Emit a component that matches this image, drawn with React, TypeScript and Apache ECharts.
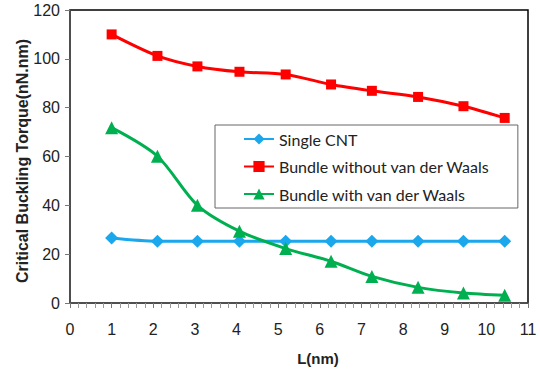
import React, { useEffect, useRef } from "react";
import * as echarts from "echarts";

const lengths = [1.0, 2.1, 3.06, 4.07, 5.18, 6.27, 7.25, 8.36, 9.45, 10.44];
const singleCNT = [26.6, 25.3, 25.3, 25.3, 25.3, 25.3, 25.3, 25.3, 25.3, 25.3];
const bundleWithout = [110, 101.2, 96.9, 94.7, 93.6, 89.5, 86.9, 84.4, 80.6, 75.8];
const bundleWith = [71.8, 60.1, 40, 29.4, 22.3, 17.1, 10.9, 6.4, 4.1, 3.2];
const seriesNames = ["Single CNT", "Bundle without van der Waals", "Bundle with van der Waals"];

const pair = (ys: number[]) => lengths.map((x, i) => [x, ys[i]]);

export default function App() {
  const ref = useRef<HTMLDivElement>(null);
  useEffect(() => {
    if (!ref.current) return;
    const chart = echarts.init(ref.current, undefined, { renderer: "svg" });
    const axisFont = { fontFamily: "Liberation Sans, Arial, sans-serif", fontSize: 16, color: "#222" };
    chart.setOption({
      animation: false,
      backgroundColor: "#fff",
      grid: {
        left: 70,
        top: 10,
        right: 12,
        bottom: 69,
        show: true,
        borderColor: "#000",
        borderWidth: 1.5,
      },
      xAxis: {
        type: "value",
        min: 0,
        max: 11,
        interval: 1,
        axisLine: { show: true, lineStyle: { color: "#555", width: 1.5 } },
        axisTick: { show: true, length: 5, lineStyle: { color: "#777" } },
        minorTick: { show: true, splitNumber: 5, length: 5, lineStyle: { color: "#999" } },
        splitLine: { show: false },
        axisLabel: { ...axisFont, margin: 18 },
      },
      yAxis: {
        type: "value",
        min: 0,
        max: 120,
        interval: 20,
        axisLine: { show: true, lineStyle: { color: "#555", width: 1.5 } },
        axisTick: { show: true, length: 5, lineStyle: { color: "#777" } },
        splitLine: { show: false },
        axisLabel: { ...axisFont, margin: 10 },
      },
      legend: {
        orient: "vertical",
        left: 215,
        top: 125,
        data: seriesNames,
        backgroundColor: "#fff",
        borderColor: "#666",
        borderWidth: 1,
        padding: [6, 28, 6, 28],
        itemWidth: 30,
        itemHeight: 14,
        itemGap: 11.5,
        textStyle: { fontFamily: "Lato, Noto Sans, sans-serif", fontSize: 16, color: "#222" },
      },
      graphic: [
        {
          type: "text",
          x: 22,
          y: 161,
          rotation: Math.PI / 2,
          style: {
            text: "Critical Buckling Torque(nN.nm)",
            fontFamily: "Liberation Sans, Arial, sans-serif",
            fontWeight: "bold",
            fontSize: 16,
            fill: "#222",
            align: "center",
            verticalAlign: "middle",
          },
        },
        {
          type: "text",
          x: 318,
          y: 358,
          style: {
            text: "L(nm)",
            fontFamily: "Liberation Sans, Arial, sans-serif",
            fontWeight: "bold",
            fontSize: 15,
            fill: "#222",
            align: "center",
            verticalAlign: "middle",
          },
        },
      ],
      series: [
        {
          name: seriesNames[0],
          type: "line",
          data: pair(singleCNT),
          smooth: 0.3,
          symbol: "diamond",
          symbolSize: 13,
          lineStyle: { color: "#1AA7EC", width: 3 },
          itemStyle: { color: "#1AA7EC" },
        },
        {
          name: seriesNames[1],
          type: "line",
          data: pair(bundleWithout),
          smooth: 0.3,
          symbol: "rect",
          symbolSize: 10,
          lineStyle: { color: "#FF0000", width: 3 },
          itemStyle: { color: "#FF0000" },
        },
        {
          name: seriesNames[2],
          type: "line",
          data: pair(bundleWith),
          smooth: 0.3,
          symbol: "triangle",
          symbolSize: 13,
          lineStyle: { color: "#00B050", width: 3 },
          itemStyle: { color: "#00B050" },
        },
      ],
    });
    return () => chart.dispose();
  }, []);
  return <div ref={ref} style={{ width: 540, height: 372, position: "absolute", left: 0, top: 0 }} />;
}
